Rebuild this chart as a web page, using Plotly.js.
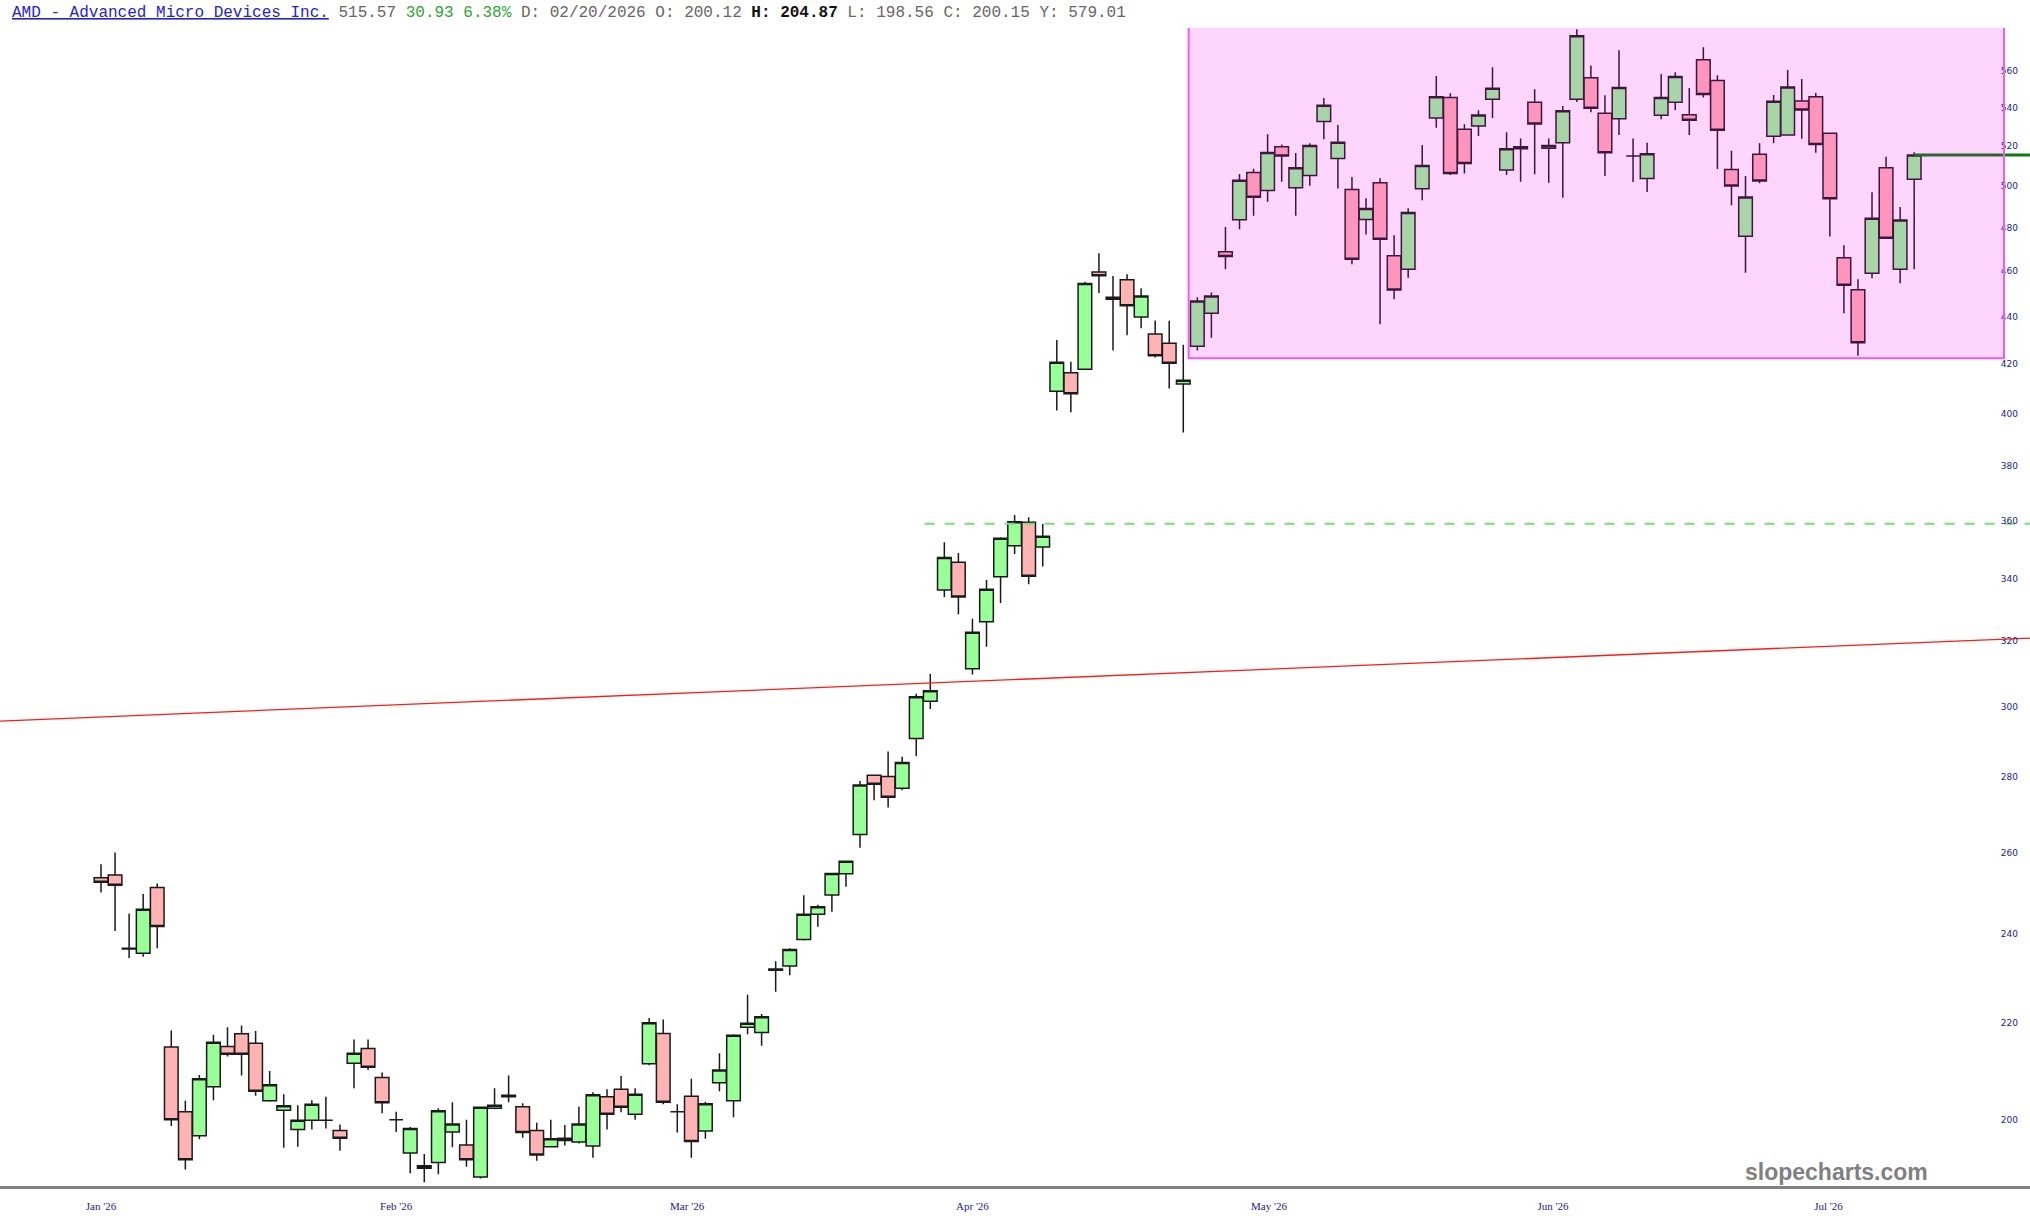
<!DOCTYPE html>
<html><head><meta charset="utf-8">
<script src="https://cdn.plot.ly/plotly-3.0.1.min.js"></script>
<style>html,body{margin:0;padding:0;background:#fff;overflow:hidden}</style>
</head><body><div id="chart" style="width:2030px;height:1229px"></div>
<script>
// Daily OHLC (trading-day order)
const openP = [253.6,254.3,236.7,235.5,251.2,214.8,201.6,196.9,206.6,214.9,
217.6,215.6,203.8,201.9,198.1,199.9,199.9,197.9,211.4,214.5,
208.5,200.0,193.6,191.2,191.8,197.6,195.1,189.1,202.3,204.9,
202.6,197.9,194.8,196.4,195.7,194.9,204.6,206.1,201.1,211.3,
217.7,201.6,204.7,197.8,207.4,203.8,219.0,217.9,231.9,232.6,
238.7,244.7,249.4,254.6,264.6,280.5,280.1,276.9,290.8,301.6,
336.4,345.7,311.4,326.1,340.8,351.3,359.5,350.9,408.8,416.3,
417.8,459.6,448.4,456.1,439.8,432.5,428.6,411.8,427.3,441.4,
468.8,483.8,506.8,497.9,519.7,499.2,505.3,532.7,513.8,498.4,
483.9,501.7,467.0,460.8,498.7,534.6,545.5,528.7,530.4,544.5,
508.0,519.7,542.9,518.9,521.8,544.5,556.2,537.1,534.2,515.0,
503.8,536.1,542.9,536.3,566.1,554.7,508.3,476.0,515.9,525.1,
525.7,543.6,545.9,526.7,466.1,451.7,459.0,509.1,460.9,503.4];
const highP = [257.0,260.0,244.9,249.6,252.2,218.3,203.8,209.0,217.4,219.0,
219.4,218.2,209.8,205.1,202.9,203.9,204.6,199.1,216.4,216.4,
209.5,201.6,198.6,193.4,202.3,203.5,200.0,202.6,206.3,208.9,
203.3,199.4,200.0,199.0,202.6,205.5,206.1,208.8,206.3,221.0,
220.7,203.1,208.2,203.6,213.5,217.5,226.1,221.9,233.7,236.7,
249.3,247.0,254.9,257.8,278.9,280.7,287.1,285.6,303.8,309.8,
352.5,348.8,327.0,339.7,354.3,362.1,361.3,358.9,429.9,420.9,
455.2,468.1,457.8,458.6,452.3,438.2,438.1,427.9,448.4,450.4,
480.3,506.0,508.6,526.1,520.9,516.5,521.5,545.2,530.9,504.5,
494.1,503.9,476.5,489.3,520.6,557.1,547.7,531.3,538.7,561.9,
527.2,524.0,549.9,524.0,540.9,583.2,562.8,546.7,571.3,524.0,
521.8,558.2,559.2,550.6,573.0,557.5,517.7,505.0,521.5,546.8,
560.4,555.5,547.9,527.0,471.8,456.3,497.0,514.6,489.9,516.9];
const lowP = [250.0,240.7,234.4,234.7,236.7,198.8,190.5,196.2,203.9,212.8,
208.9,204.8,203.6,194.6,194.8,198.1,198.3,194.0,206.3,210.0,
201.3,197.6,189.8,188.1,189.6,194.7,191.0,188.8,202.1,203.5,
196.5,192.1,194.7,195.0,195.4,192.7,198.1,201.5,200.0,211.0,
203.1,197.5,192.7,196.3,205.7,200.5,217.5,215.1,226.8,230.5,
238.5,241.7,245.3,251.4,261.2,273.7,271.7,276.4,285.8,299.3,
334.1,328.5,309.6,318.2,332.1,348.5,338.3,344.2,401.2,400.5,
417.6,450.2,425.5,431.9,434.9,422.6,409.9,392.6,425.5,430.9,
460.8,479.3,485.7,492.4,502.2,485.7,500.2,523.5,498.9,463.1,
476.8,436.6,447.5,457.0,493.1,529.5,505.5,506.2,525.2,534.6,
505.5,502.2,505.9,501.7,494.4,543.0,537.6,505.0,525.7,502.0,
497.1,534.0,538.8,525.7,545.5,508.5,490.7,459.3,501.4,521.5,
525.5,523.8,516.7,475.9,441.4,423.3,456.8,474.8,454.6,460.9];
const closeP = [252.5,251.8,236.5,245.9,241.8,200.0,192.3,208.2,215.8,213.3,
213.3,205.7,207.0,202.8,199.9,203.1,199.9,196.4,213.5,210.6,
203.4,200.0,198.3,190.7,201.8,199.2,192.3,202.5,202.9,204.6,
197.5,193.2,196.3,196.0,199.2,205.0,201.1,202.5,205.1,220.0,
203.5,201.6,195.8,203.2,210.0,217.3,219.9,221.3,231.6,236.4,
244.7,246.5,254.7,257.8,277.8,278.0,274.5,284.0,302.9,304.7,
347.3,334.1,322.7,336.6,353.9,359.7,341.0,354.6,420.6,407.8,
454.4,457.9,447.5,444.6,448.9,423.3,420.2,413.3,446.7,448.9,
466.7,502.9,494.6,516.8,515.0,509.1,520.4,541.3,522.0,465.4,
489.1,474.6,451.6,487.3,510.3,545.9,506.2,511.3,536.2,550.4,
518.7,518.7,531.5,520.4,538.4,579.6,539.7,516.7,550.8,515.0,
516.2,545.4,556.8,533.4,547.0,528.2,500.1,494.7,502.5,543.4,
551.1,538.8,520.9,493.9,453.7,428.8,484.5,475.1,483.7,515.57];

// Month labels (positions in trading-day index) and price ticks
const monthTickPos = [0, 21, 41.7, 62, 83.1, 103.3, 122.9];
const monthTickText = ["Jan '26", "Feb '26", "Mar '26", "Apr '26", "May '26", "Jun '26", "Jul '26"];
const priceTicks = [200,220,240,260,280,300,320,340,360,380,400,420,440,460,480,500,520,540,560];

// Drawn studies: trend line, resistance, last price, range zone
const trendX = [-7.19, 137.24], trendY = [295.8, 320.9];
const resistX = [58.6, 137.24], resistY = [359, 359];
const lastX = [129, 137.24], lastY = [515.57, 515.57];
const zoneX = [77.38, 135.39], zoneY = [422.3, 595];

const dayIndex = openP.map((_, i) => i);

const traces = [
  {
    type: 'candlestick', x: dayIndex, open: openP, high: highP, low: lowP, close: closeP,
    increasing: {fillcolor: '#99ff99', line: {color: '#1a1a1a', width: 1.5}},
    decreasing: {fillcolor: '#ffb3b3', line: {color: '#1a1a1a', width: 1.5}},
    whiskerwidth: 0, showlegend: false, hoverinfo: 'skip'
  },
  {type: 'scatter', mode: 'lines', x: trendX, y: trendY, line: {color: '#ff1a1a', width: 1.3}, showlegend: false, hoverinfo: 'skip'},
  {type: 'scatter', mode: 'lines', x: resistX, y: resistY, line: {color: '#77dd77', width: 2, dash: '10px,10px'}, showlegend: false, hoverinfo: 'skip'},
  {type: 'scatter', mode: 'lines', x: lastX, y: lastY, line: {color: '#0a7a0a', width: 3}, showlegend: false, hoverinfo: 'skip'}
];

const header = '<span style="color:#2424c8;text-decoration:underline">AMD - Advanced Micro Devices Inc.</span>' +
  '<span style="color:#666666"> 515.57 </span>' +
  '<span style="color:#2fa52f">30.93 6.38%</span>' +
  '<span style="color:#666666"> D: 02/20/2026 O: 200.12 </span>' +
  '<b><span style="color:#111111">H: 204.87</span></b>' +
  '<span style="color:#666666"> L: 198.56 C: 200.15 Y: 579.01</span>';

const plotTop = 28, plotBottom = 1186;
const layout = {
  width: 2030, height: 1229,
  margin: {l: 0, r: 0, t: plotTop, b: 1229 - plotBottom, pad: 0},
  paper_bgcolor: '#ffffff', plot_bgcolor: '#ffffff',
  showlegend: false, boxgap: 0.03, boxgroupgap: 0,
  xaxis: {
    type: 'linear', range: [-7.186, 137.24], rangeslider: {visible: false},
    showgrid: false, zeroline: false, showline: true, linecolor: '#808080', linewidth: 2.5,
    ticks: '', tickmode: 'array', tickvals: monthTickPos, ticktext: monthTickText,
    tickfont: {family: 'Liberation Serif, Times New Roman, serif', size: 11, color: '#1a1a8c'},
    ticklabelstandoff: 8, fixedrange: true
  },
  yaxis: {
    type: 'log', range: [Math.log10(187.42), Math.log10(583.96)], side: 'right',
    ticklabelposition: 'inside', ticklabelstandoff: 9,
    showgrid: false, zeroline: false, showline: false, ticks: '',
    tickmode: 'array', tickvals: priceTicks, ticktext: priceTicks.map(String),
    tickfont: {family: 'DejaVu Sans, Verdana, sans-serif', size: 9, color: '#1a1a8c'},
    fixedrange: true
  },
  shapes: [
    {type: 'rect', xref: 'x', yref: 'y', x0: zoneX[0], x1: zoneX[1], y0: zoneY[0], y1: zoneY[1],
     fillcolor: 'rgba(240,0,240,0.165)', line: {color: '#ee5cee', width: 2}, layer: 'above'}
  ],
  annotations: [
    {xref: 'paper', yref: 'paper', x: 10/2030, y: (plotBottom-13)/(plotBottom-plotTop), xanchor: 'left', yanchor: 'middle',
     showarrow: false, text: header, font: {family: 'Liberation Mono, Courier New, monospace', size: 16, color: '#666666'}},
    {xref: 'paper', yref: 'paper', x: 1836/2030, y: (plotBottom-1172)/(plotBottom-plotTop), xanchor: 'center', yanchor: 'middle',
     showarrow: false, text: '<b>slopecharts.com</b>', font: {family: 'Liberation Sans, Arial, sans-serif', size: 23, color: '#808080'}}
  ]
};

Plotly.newPlot('chart', traces, layout, {displayModeBar: false, staticPlot: true});
</script></body></html>
